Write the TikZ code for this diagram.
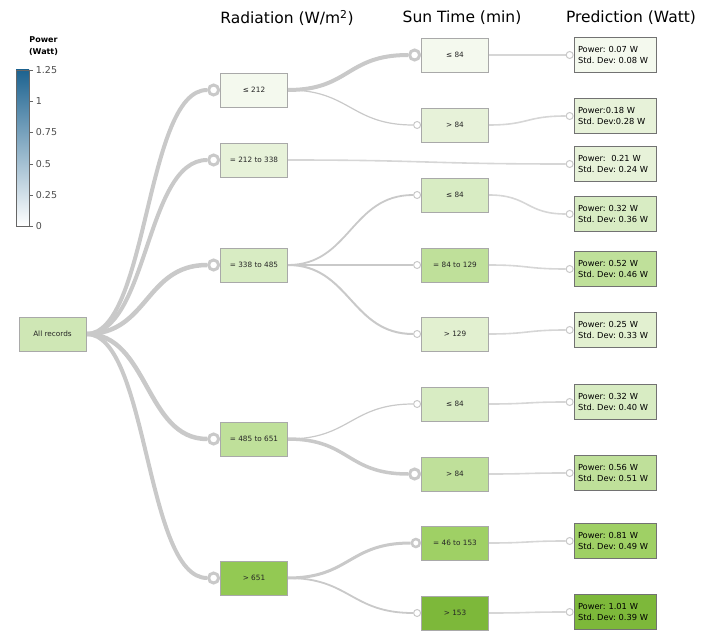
\documentclass[tikz,border=0pt]{standalone}
\usepackage{fontspec}
\setmainfont{DejaVu Sans}
\frenchspacing
\usetikzlibrary{positioning}
\usetikzlibrary{backgrounds}
\definecolor{linkgray}{HTML}{C9C9C9}
\definecolor{thingray}{HTML}{D6D6D6}
\definecolor{boxedge}{HTML}{A9A9A9}
\definecolor{predge}{HTML}{727272}
\definecolor{barblue}{HTML}{1D6390}
\definecolor{gA}{HTML}{F4F9EE}
\definecolor{gB}{HTML}{E7F2D9}
\definecolor{gC}{HTML}{E2F0D0}
\definecolor{gD}{HTML}{D8ECC3}
\definecolor{gE}{HTML}{CFE7B5}
\definecolor{gF}{HTML}{BFE09A}
\definecolor{gG}{HTML}{9FD065}
\definecolor{gH}{HTML}{93C953}
\definecolor{gI}{HTML}{7DB83A}
\tikzset{
  split/.style={rectangle, draw=boxedge, line width=.8pt, minimum width=67pt, minimum height=34pt,
    inner sep=0pt, text=black!85, font=\fontsize{7.3}{8}\selectfont},
  pred/.style={rectangle, draw=predge, line width=.7pt, minimum width=82pt, minimum height=35pt,
    inner xsep=4pt, text width=74pt, align=left, font=\fontsize{8.3}{10.5}\selectfont},
  bigknob/.style={circle, draw=linkgray, line width=3pt, fill=white, minimum size=10pt, inner sep=0pt},
  midknob/.style={circle, draw=linkgray, line width=2.5pt, fill=white, minimum size=8pt, inner sep=0pt},
  smallknob/.style={circle, draw=linkgray, line width=1pt, fill=white, minimum size=7pt, inner sep=0pt},
  link/.style={draw=linkgray},
  thinlink/.style={draw=thingray, line width=1.6pt},
  colhead/.style={font=\fontsize{15.5}{17}\selectfont}
}

\begin{document}
\begin{tikzpicture}[x=1pt, y=-1pt]
\useasboundingbox (0,0) rectangle (707,631);

% legend
\node[font=\bfseries\fontsize{8}{9}\selectfont] (lt1) at (43.5,40) {Power};
\node[font=\bfseries\fontsize{8}{9}\selectfont] (lt2) at (43.5,52) {(Watt)};
\shade[top color=barblue, bottom color=white] (16,70) rectangle (29,226);
\draw[black!60, line width=.8pt] (16,70) rectangle (29,226);
\foreach \v/\y [count=\i] in {0/226, 0.25/195, 0.5/164, 0.75/132, 1/101, 1.25/70} {
  \draw[black!60, line width=.8pt] (29,\y)--++(4,0) node[right, inner sep=2.5pt, text=black!70, font=\fontsize{9.5}{10}\selectfont] (tick\i) {\v};
}

% column titles
\node[colhead] (hrad) at (287,18) {Radiation (W/m\textsuperscript{2})};
\node[colhead] (hsun) at (462,18) {Sun Time (min)};
\node[colhead] (hpred) at (631,18) {Prediction (Watt)};

% tree
\node[split, fill=gE] (root) at (52.5,334) {All records};

\node[split, fill=gA] (r1) at (254,90) {≤ 212};
\node[split, fill=gB] (r2) at (254,160) {= 212 to 338};
\node[split, fill=gD] (r3) at (254,265) {= 338 to 485};
\node[split, fill=gF] (r4) at (254,439) {= 485 to 651};
\node[split, fill=gH] (r5) at (254,578) {> 651};
\foreach \n in {1,...,5}
  \node[bigknob, left=0pt of r\n] (k\n) {};

\node[split, fill=gA] (s1) at (455,55) {≤ 84};
\node[split, fill=gB] (s2) at (455,125) {> 84};
\node[split, fill=gD] (s3) at (455,195) {≤ 84};
\node[split, fill=gF] (s4) at (455,265) {= 84 to 129};
\node[split, fill=gC] (s5) at (455,334) {> 129};
\node[split, fill=gD] (s6) at (455,404) {≤ 84};
\node[split, fill=gF] (s7) at (455,474) {> 84};
\node[split, fill=gG] (s8) at (455,543) {= 46 to 153};
\node[split, fill=gI] (s9) at (455,613) {> 153};
\node[bigknob, left=0pt of s1] (q1) {};
\node[smallknob, left=0pt of s2] (q2) {};
\node[smallknob, left=0pt of s3] (q3) {};
\node[smallknob, left=0pt of s4] (q4) {};
\node[smallknob, left=0pt of s5] (q5) {};
\node[smallknob, left=0pt of s6] (q6) {};
\node[bigknob, left=0pt of s7] (q7) {};
\node[midknob, left=0pt of s8] (q8) {};
\node[smallknob, left=0pt of s9] (q9) {};

\node[pred, fill=gA] (p1) at (615,55) {Power: 0.07 W\\Std. Dev: 0.08 W};
\node[pred, fill=gB] (p2) at (615,116) {Power:0.18 W\\Std. Dev:0.28 W};
\node[pred, fill=gB] (p3) at (615,164) {Power:\ \ 0.21 W\\Std. Dev: 0.24 W};
\node[pred, fill=gD] (p4) at (615,214) {Power: 0.32 W\\Std. Dev: 0.36 W};
\node[pred, fill=gF] (p5) at (615,269) {Power: 0.52 W\\Std. Dev: 0.46 W};
\node[pred, fill=gC] (p6) at (615,330) {Power: 0.25 W\\Std. Dev: 0.33 W};
\node[pred, fill=gD] (p7) at (615,402) {Power: 0.32 W\\Std. Dev: 0.40 W};
\node[pred, fill=gF] (p8) at (615,473) {Power: 0.56 W\\Std. Dev: 0.51 W};
\node[pred, fill=gG] (p9) at (615,541) {Power: 0.81 W\\Std. Dev: 0.49 W};
\node[pred, fill=gI] (p10) at (615,612) {Power: 1.01 W\\Std. Dev: 0.39 W};
\foreach \n in {1,...,10}
  \node[smallknob, left=0pt of p\n] (t\n) {};

\begin{scope}[on background layer]
\foreach \b/\w in {k1/4pt, k2/4pt, k3/4.5pt, k4/4.5pt, k5/4pt}
  \draw[link, line width=\w] (root.east) .. controls +(62,0) and +(-62,0) .. (\b.west);
\foreach \a/\b/\w in {r1/q1/4pt, r1/q2/1.2pt, r3/q3/1.8pt, r3/q4/1.8pt, r3/q5/2pt,
    r4/q6/1.2pt, r4/q7/3.5pt, r5/q8/3pt, r5/q9/1.8pt}
  \draw[link, line width=\w] (\a.east) .. controls +(62,0) and +(-62,0) .. (\b.west);
\draw[thinlink] (r2.east) .. controls +(140,0) and +(-140,0) .. (t3.west);
\foreach \a/\b in {s1/t1, s2/t2, s3/t4, s4/t5, s5/t6, s6/t7, s7/t8, s8/t9, s9/t10}
  \draw[thinlink] (\a.east) .. controls +(40,0) and +(-40,0) .. (\b.west);
\end{scope}
\end{tikzpicture}
\end{document}
